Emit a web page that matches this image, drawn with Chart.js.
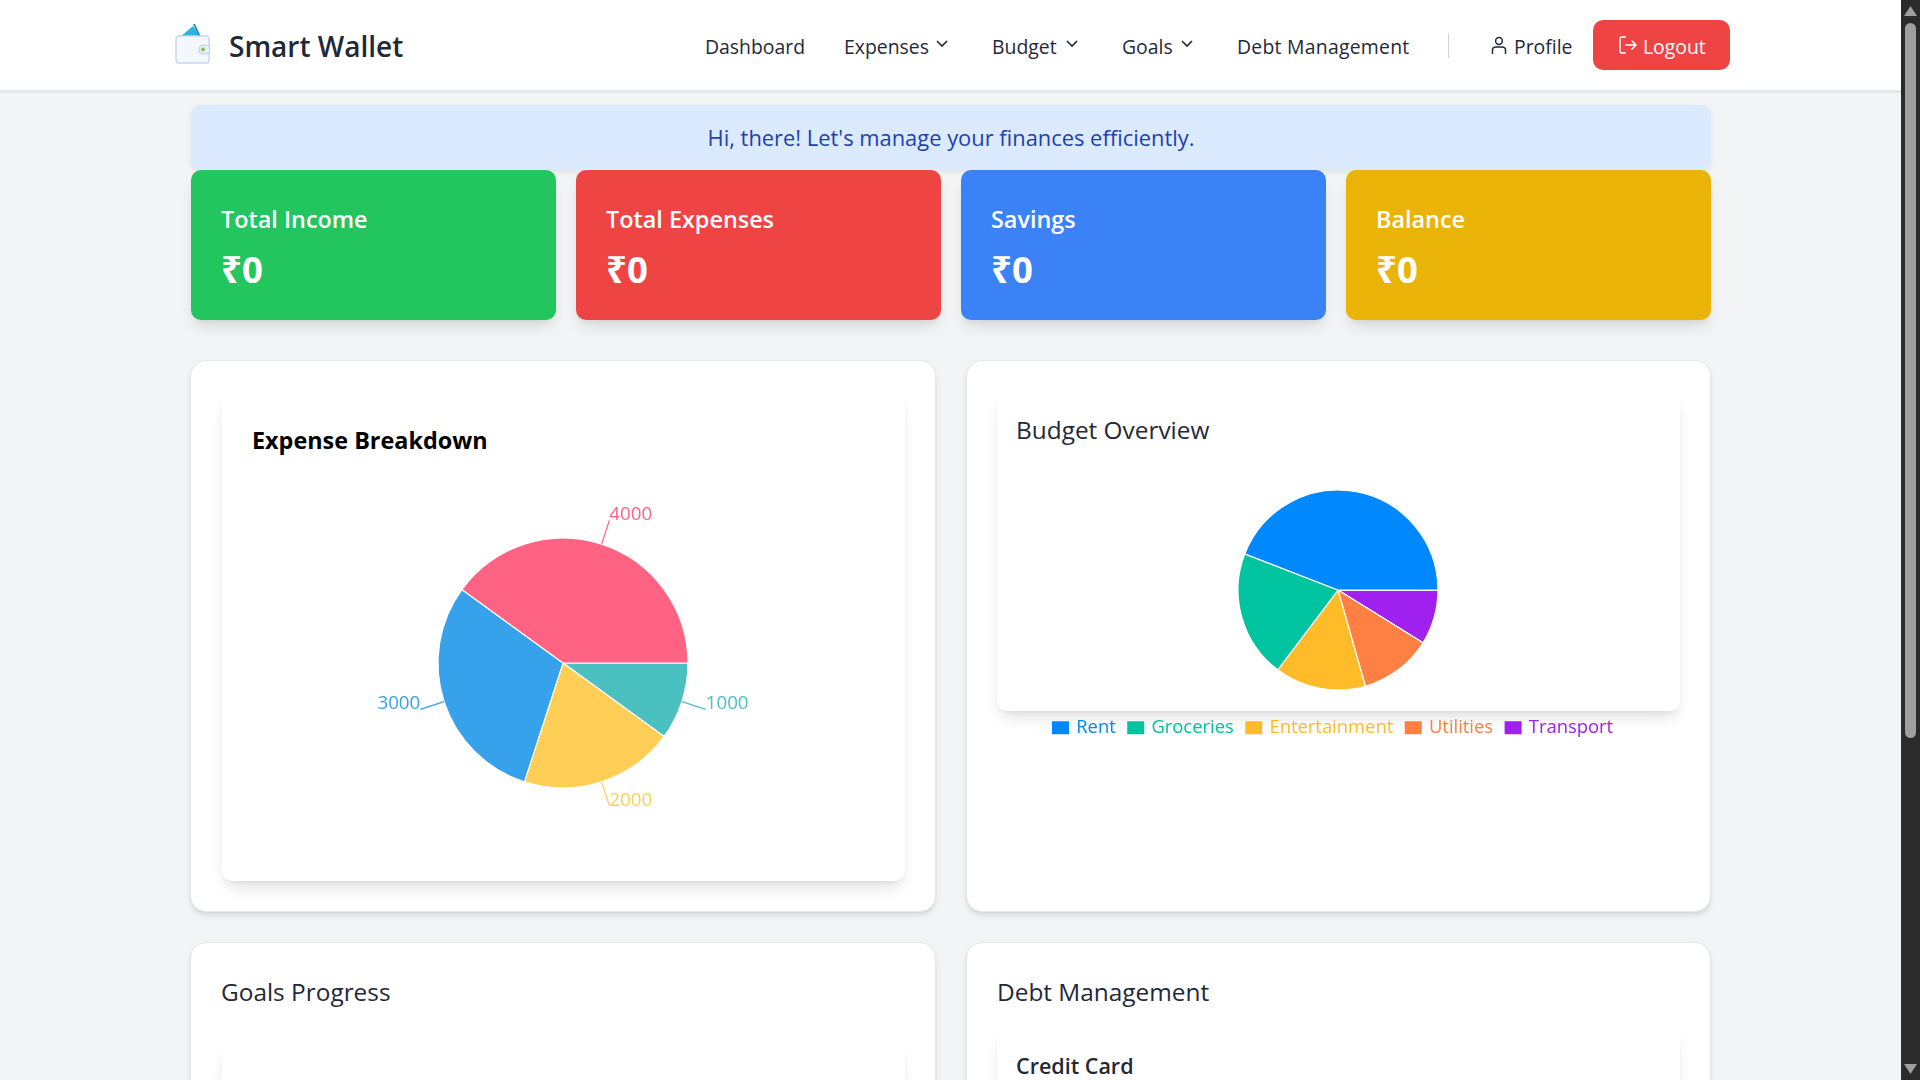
<!DOCTYPE html>
<html>
<head>
<meta charset="utf-8">
<title>Smart Wallet</title>
<script src="https://cdn.jsdelivr.net/npm/chart.js@4"></script>
<style>
  * { box-sizing: border-box; margin: 0; padding: 0; }
  html, body { width: 1920px; height: 1080px; overflow: hidden; }
  body { background: #f3f4f6; font-family: "Open Sans", "Noto Sans", sans-serif; color: #1f2937; position: relative; }
  .abs, .abs-text { position: absolute; }
  .abs-text { white-space: nowrap; line-height: 1; }

  /* top bar */
  .topbar { left: 0; top: 0; width: 1901px; height: 93px; background: #fff; border-bottom: 3px solid #e5e7eb; }
  .brand { left: 229px; top: 32px; font-size: 28px; font-weight: 600; }
  .nav { top: 36.5px; font-size: 19.4px; font-weight: 500; }
  .divider { left: 1448px; top: 33px; width: 1px; height: 25px; background: #d1d5db; }
  .logout { left: 1593px; top: 20px; width: 137px; height: 50px; background: #ef4444; border-radius: 10px; }

  /* banner and stat cards */
  .banner { left: 191px; top: 105px; width: 1520px; height: 65px; background: #dbeafe; border-radius: 10px; box-shadow: 0 2px 6px rgba(0,0,0,.08); color: #1e40af; font-size: 21.9px; font-weight: 500; text-align: center; line-height: 66px; }
  .stat { top: 170px; width: 365px; height: 150px; border-radius: 10px; box-shadow: 0 10px 15px -3px rgba(0,0,0,.1), 0 4px 6px -4px rgba(0,0,0,.1); color: #fff; }
  .stat .t { position: absolute; left: 30px; top: 35px; font-size: 23.4px; font-weight: 600; line-height: 1.2; white-space: nowrap; }
  .stat .v { position: absolute; left: 30px; top: 78px; font-size: 36.5px; font-weight: 700; line-height: 1.2; }

  /* panels */
  .panel { background: #fff; border: 1px solid #e5e7eb; border-radius: 16px; box-shadow: 0 4px 6px -1px rgba(0,0,0,.1), 0 2px 4px -2px rgba(0,0,0,.1); }
  .inner { background: #fff; border-radius: 10px; box-shadow: 0 10px 15px -3px rgba(0,0,0,.1), 0 4px 6px -4px rgba(0,0,0,.1); }
  .h { font-size: 24.4px; font-weight: 500; color: #1f2937; }
  .scroll-track { left: 1901px; top: 0; width: 19px; height: 1080px; background: #2b2b2b; }
  .scroll-thumb { left: 1905px; top: 23px; width: 11px; height: 715px; background: #9f9f9f; border-radius: 6px; }
  canvas { display: block; }
</style>
</head>
<body>

<div class="abs topbar"></div>
<svg class="abs" style="left:175px;top:24px" width="36" height="41" viewBox="0 0 36 41">
  <path d="M5 13 L18 2 L25 13 Z" fill="#29b6d8"/>
  <path d="M18 0 L20 0 L26 13 L24 13 Z" fill="#1e88c9"/>
  <rect x="1" y="12" width="33" height="27" rx="3" fill="#f4f8fd" stroke="#c5d9f0" stroke-width="1.5"/>
  <rect x="24" y="21" width="11" height="9" rx="4" fill="#e6eff9" stroke="#b9d0ea"/>
  <circle cx="28" cy="25.5" r="2" fill="#8bc34a"/>
</svg>
<div class="abs-text brand">Smart Wallet</div>
<div class="abs-text nav" style="left:705px">Dashboard</div>
<div class="abs-text nav" style="left:844px">Expenses</div>
<div class="abs-text nav" style="left:992px">Budget</div>
<div class="abs-text nav" style="left:1122px">Goals</div>
<div class="abs-text nav" style="left:1237px;letter-spacing:.25px">Debt Management</div>
<div class="abs-text nav" style="left:1514px">Profile</div>
<svg class="abs" style="left:935px;top:39px" width="14" height="10" viewBox="0 0 14 10"><path d="M2 2 L7 7 L12 2" fill="none" stroke="#1f2937" stroke-width="1.6"/></svg>
<svg class="abs" style="left:1065px;top:39px" width="14" height="10" viewBox="0 0 14 10"><path d="M2 2 L7 7 L12 2" fill="none" stroke="#1f2937" stroke-width="1.6"/></svg>
<svg class="abs" style="left:1180px;top:39px" width="14" height="10" viewBox="0 0 14 10"><path d="M2 2 L7 7 L12 2" fill="none" stroke="#1f2937" stroke-width="1.6"/></svg>
<div class="abs divider"></div>
<svg class="abs" style="left:1491px;top:36px" width="16" height="19" viewBox="0 0 16 19"><circle cx="8" cy="5" r="3.4" fill="none" stroke="#1f2937" stroke-width="1.5"/><path d="M1.5 18 V14 Q1.5 11 5 11 H11 Q14.5 11 14.5 14 V18" fill="none" stroke="#1f2937" stroke-width="1.5"/></svg>
<div class="abs logout"></div>
<svg class="abs" style="left:1619px;top:36px" width="19" height="18" viewBox="0 0 19 18"><path d="M7 1 H3 Q1 1 1 3 V15 Q1 17 3 17 H7" fill="none" stroke="#fff" stroke-width="1.5"/><path d="M6 9 H17 M12.5 4.5 L17 9 L12.5 13.5" fill="none" stroke="#fff" stroke-width="1.5"/></svg>
<div class="abs-text nav" style="left:1643px;color:#fff">Logout</div>

<div class="abs banner">Hi, there! Let's manage your finances efficiently.</div>
<div class="abs stat" style="left:191px;background:#22c55e"><div class="t">Total Income</div><div class="v">₹0</div></div>
<div class="abs stat" style="left:576px;background:#ef4444"><div class="t">Total Expenses</div><div class="v">₹0</div></div>
<div class="abs stat" style="left:961px;background:#3b82f6"><div class="t">Savings</div><div class="v">₹0</div></div>
<div class="abs stat" style="left:1346px;background:#eab308"><div class="t">Balance</div><div class="v">₹0</div></div>

<div class="abs panel" style="left:190px;top:360px;width:746px;height:552px"></div>
<div class="abs panel" style="left:966px;top:360px;width:745px;height:552px"></div>
<div class="abs panel" style="left:190px;top:942px;width:746px;height:300px"></div>
<div class="abs panel" style="left:966px;top:942px;width:745px;height:300px"></div>

<div class="abs inner" style="left:222px;top:391px;width:683px;height:490px"></div>
<div class="abs inner" style="left:997px;top:391px;width:683px;height:320px"></div>
<div class="abs inner" style="left:222px;top:1043px;width:683px;height:200px"></div>
<div class="abs inner" style="left:997px;top:1027px;width:683px;height:200px"></div>

<div class="abs-text h" style="left:252px;top:429px;color:#000;font-weight:700;font-size:23.4px">Expense Breakdown</div>
<div class="abs-text h" style="left:1016px;top:418px">Budget Overview</div>
<div class="abs-text h" style="left:221px;top:980px">Goals Progress</div>
<div class="abs-text h" style="left:997px;top:980px">Debt Management</div>
<div class="abs-text h" style="left:1016px;top:1055px;font-size:21.5px;font-weight:600">Credit Card</div>

<div class="abs" style="left:333px;top:493px;width:460px;height:340px"><canvas id="expenseChart"></canvas></div>
<div class="abs" style="left:1038px;top:475px;width:600px;height:272px"><canvas id="budgetChart"></canvas></div>

<div class="abs scroll-track"></div>
<div class="abs scroll-thumb"></div>
<svg class="abs" style="left:1904px;top:6px" width="13" height="10" viewBox="0 0 13 10"><path d="M6.5 0 L13 10 H0 Z" fill="#9f9f9f"/></svg>
<svg class="abs" style="left:1904px;top:1064px" width="13" height="10" viewBox="0 0 13 10"><path d="M0 0 H13 L6.5 10 Z" fill="#9f9f9f"/></svg>

<script>
// slices run clockwise in Chart.js, the reference runs them the other way,
// so the lists below are kept last slice first
const expenseValues = [1000, 2000, 3000, 4000];
const expenseColors = ["#4BC0C0", "#FFCE56", "#36A2EB", "#FF6384"];

const budgetLabels = ["Transport", "Utilities", "Entertainment", "Groceries", "Rent"];
const budgetValues = [3000, 4000, 5000, 7000, 15000];
const budgetColors = ["#A020F0", "#FF8042", "#FFBB28", "#00C49F", "#0088FE"];

const chartFont = '"Open Sans", "Noto Sans", sans-serif';

// value labels with a short leader line, placed from each arc's own geometry
const leaderLabels = {
  id: "leaderLabels",
  afterDatasetsDraw(chart) {
    const ctx = chart.ctx;
    const meta = chart.getDatasetMeta(0);
    ctx.save();
    ctx.font = "18.8px " + chartFont;
    ctx.textBaseline = "alphabetic";
    meta.data.forEach((arc, i) => {
      const mid = (arc.startAngle + arc.endAngle) / 2;
      const cos = Math.cos(mid);
      const sin = Math.sin(mid);
      const endX = arc.x + cos * (arc.outerRadius + 25);
      const endY = arc.y + sin * (arc.outerRadius + 25);
      ctx.strokeStyle = expenseColors[i];
      ctx.fillStyle = expenseColors[i];
      ctx.lineWidth = 1.2;
      ctx.beginPath();
      ctx.moveTo(arc.x + cos * arc.outerRadius, arc.y + sin * arc.outerRadius);
      ctx.lineTo(endX, endY);
      ctx.stroke();
      ctx.textAlign = cos >= 0 ? "left" : "right";
      ctx.fillText(String(expenseValues[i]), endX, endY);
    });
    ctx.restore();
  }
};

new Chart(document.getElementById("expenseChart"), {
  type: "pie",
  plugins: [leaderLabels],
  data: {
    labels: expenseValues.map(String),
    datasets: [{
      data: expenseValues,
      backgroundColor: expenseColors,
      borderColor: "#fff",
      borderWidth: 1.2
    }]
  },
  options: {
    responsive: true,
    maintainAspectRatio: false,
    animation: false,
    rotation: 90,
    radius: 125,
    plugins: { legend: { display: false }, tooltip: { enabled: false } }
  }
});

new Chart(document.getElementById("budgetChart"), {
  type: "pie",
  data: {
    labels: budgetLabels,
    datasets: [{
      data: budgetValues,
      backgroundColor: budgetColors,
      borderColor: "#fff",
      borderWidth: 1.2
    }]
  },
  options: {
    responsive: true,
    maintainAspectRatio: false,
    animation: false,
    rotation: 90,
    radius: 100,
    layout: { padding: { left: 2.5, right: 2.5 } },
    plugins: {
      tooltip: { enabled: false },
      legend: {
        position: "bottom",
        align: "start",
        labels: {
          // small box with a thick outline: keeps the text close to the square
          boxWidth: 13,
          boxHeight: 9,
          padding: 13.5,
          font: { family: chartFont, size: 18.4 },
          generateLabels() {
            return budgetLabels.map((label, i) => ({
              text: label,
              fillStyle: budgetColors[i],
              strokeStyle: budgetColors[i],
              fontColor: budgetColors[i],
              lineWidth: 4,
              index: i
            })).reverse();
          }
        }
      }
    }
  }
});
</script>
</body>
</html>
